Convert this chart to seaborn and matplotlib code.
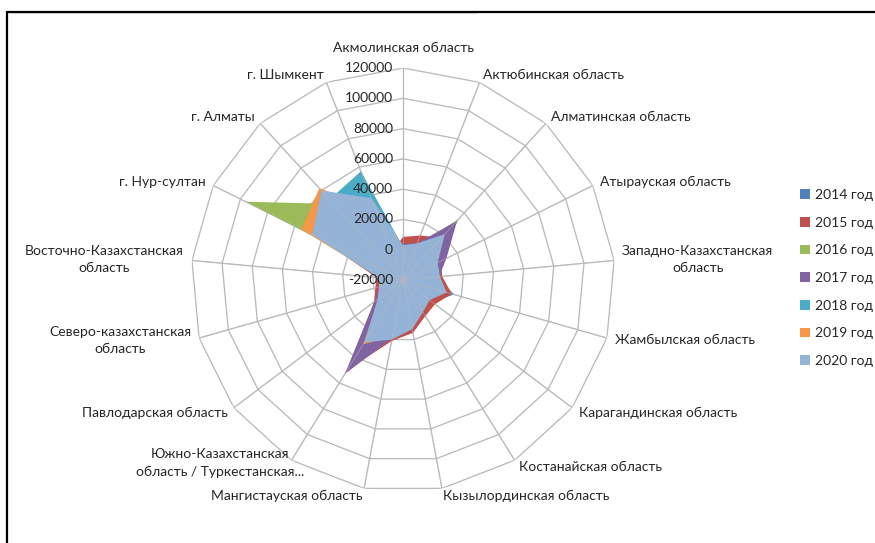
import numpy as np
import pandas as pd
import matplotlib
matplotlib.use("Agg")
import matplotlib.pyplot as plt
from matplotlib.patches import Patch
from matplotlib.lines import Line2D
import seaborn as sns

# Regions, clockwise from the top of the radar
regions = [
    "Акмолинская область",
    "Актюбинская область",
    "Алматинская область",
    "Атырауская область",
    "Западно-Казахстанская\nобласть",
    "Жамбылская область",
    "Карагандинская область",
    "Костанайская область",
    "Кызылординская область",
    "Мангистауская область",
    "Южно-Казахстанская\nобласть / Туркестанская...",
    "Павлодарская область",
    "Северо-казахстанская\nобласть",
    "Восточно-Казахстанская\nобласть",
    "г. Нур-султан",
    "г. Алматы",
    "г. Шымкент",
]

years = ["2014 год", "2015 год", "2016 год", "2017 год", "2018 год", "2019 год", "2020 год"]

v2014 = [5000, 8000, 15000, 6000, 3000, 15000, 4000, 6000, 12000, 16000, 42000, 1500, -3000, -6000, 40000, 45000, 0]
v2015 = [8500, 11500, 18000, 8000, 6000, 13500, 6500, 8000, 15500, 21000, 50000, 4000, -1000, -2500, 42000, 50000, 0]
v2016 = [3000, 3000, 34500, 5000, 2000, 8000, 1000, 3000, 10000, 15000, 38000, -2000, -8000, -16000, 96000, 48000, 0]
v2017 = [4000, 6000, 33000, 12000, 4000, 9000, 2000, 4000, 12000, 19000, 53000, 3500, -4000, -8000, 38000, 42000, 0]
v2018 = [2000, 4000, 18000, 5000, 3000, 8000, 1500, 3000, 10000, 16000, 25000, -1000, -6000, -7000, 40000, 52000, 57000]
v2019 = [2500, 5000, 20000, 5000, 4000, 9000, 1500, 4000, 12000, 18000, 30000, 0, -4000, -5000, 55000, 62000, 30000]
v2020 = [3000, 6000, 21000, 5500, 4500, 10000, 2000, 5000, 13000, 20000, 28500, 1000, -3500, -4000, 47000, 60000, 38000]

radial_ticks = [-20000, 0, 20000, 40000, 60000, 80000, 100000, 120000]

series_colors = ["#4F81BD", "#C0504D", "#9BBB59", "#8064A2", "#4BACC6", "#F79646", "#95B3D7"]

sns.set_theme(style="white")
plt.rcParams["font.family"] = ["Lato", "DejaVu Sans"]
palette = sns.color_palette(series_colors)

df = pd.DataFrame({"region": regions})
for name, vals in zip(years, [v2014, v2015, v2016, v2017, v2018, v2019, v2020]):
    df[name] = vals

n = len(regions)
angles = np.linspace(0, 2 * np.pi, n, endpoint=False)
closed = np.append(angles, angles[0])

fig = plt.figure(figsize=(8.75, 5.43), dpi=100)
fig.patch.set_facecolor("white")
ax = fig.add_axes([0.2183, 0.0939, 0.4846, 0.7808], projection="polar")
ax.set_theta_zero_location("N")
ax.set_theta_direction(-1)
ax.set_ylim(radial_ticks[0], radial_ticks[-1])
ax.grid(False)
ax.spines["polar"].set_visible(False)
ax.set_xticks([])
ax.set_yticks([])
ax.set_facecolor("none")

grid_color = "#BABABA"
text_color = "#262626"

# polygonal rings and spokes
for v in radial_ticks[1:]:
    ax.plot(closed, [v] * (n + 1), color=grid_color, lw=0.95, zorder=1)
for a in angles:
    ax.plot([a, a], [radial_ticks[0], radial_ticks[-1]], color=grid_color, lw=0.95, zorder=1)

# filled series, earliest year at the back
for i, name in enumerate(years):
    vals = df[name].to_numpy(dtype=float)
    ax.fill(closed, np.append(vals, vals[0]), color=palette[i], lw=0, zorder=2 + i)

# category axes show through the fills
for a in angles:
    ax.plot([a, a], [radial_ticks[0], radial_ticks[-1]], color=grid_color, lw=0.6,
            alpha=0.55, zorder=20)

# radial value labels along the first axis
for v in radial_ticks:
    ax.annotate(f"{v}", xy=(0, v), xytext=(-7.2, 0), textcoords="offset points",
                ha="right", va="center", fontsize=10, color=text_color, zorder=30)

# category labels around the outer ring
for k, (a, name) in enumerate(zip(angles, regions)):
    sx, cy = np.sin(a), np.cos(a)
    if k == 0:
        ha, va, d = "center", "bottom", 10.0
    else:
        ha = "left" if sx > 0.1 else ("right" if sx < -0.1 else "center")
        va, d = "center", 5.8
    dx_extra = 12 if k == 10 else 0
    dy_extra = 3 if k == 10 else 0
    ax.annotate(name, xy=(a, radial_ticks[-1]),
                xytext=(sx * d + dx_extra, cy * d + dy_extra), textcoords="offset points",
                ha=ha, va=va, multialignment="center", linespacing=1.5, fontsize=10,
                color=text_color, annotation_clip=False, zorder=30)

handles = [Patch(facecolor=palette[i], edgecolor="none", label=name) for i, name in enumerate(years)]
fig.legend(handles=handles, loc="upper left", bbox_to_anchor=(800 / 875, 1 - 189 / 543),
           frameon=False, handlelength=0.7, handleheight=0.7, handletextpad=0.4,
           labelspacing=1.13, borderpad=0, borderaxespad=0, fontsize=10,
           labelcolor=text_color)

# chart frame (top and left edges)
fy = 1 - 11.5 / 543
fx = 6.5 / 875
fig.add_artist(Line2D([fx, 1], [fy, fy], transform=fig.transFigure, color="black", lw=1.6))
fig.add_artist(Line2D([fx, fx], [0, fy], transform=fig.transFigure, color="black", lw=1.6))
fig.add_artist(Line2D([10 / 875, 477 / 875], [1 - 13 / 543] * 2, transform=fig.transFigure,
                      color="#C8C8C8", lw=0.7))

fig.savefig("out.png", dpi=100)
